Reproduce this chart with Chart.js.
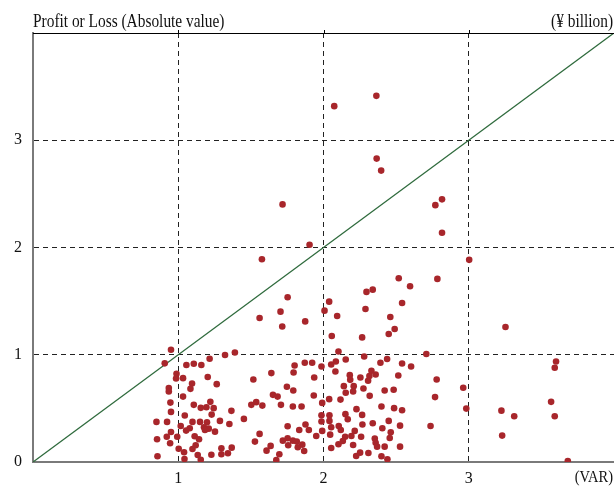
<!DOCTYPE html>
<html>
<head>
<meta charset="utf-8">
<script src="https://cdn.jsdelivr.net/npm/chart.js@4"></script>
<style>
  html, body { margin: 0; padding: 0; background: #fff; }
  #wrap { width: 614px; height: 487px; }
</style>
</head>
<body>
<div id="wrap"><canvas id="grafico" width="614" height="487"></canvas></div>
<script>
// VAR (x) vs profit or loss absolute value (y), ¥ billion
const varValues = [
  0.950, 0.907, 0.988, 0.985, 0.935, 0.935, 0.946, 0.950, 0.850, 0.923, 1.017, 0.950, 0.921, 0.993, 0.854, 0.944, 1.003, 0.857,
  1.322, 1.390, 1.216, 1.056, 1.107, 1.159, 1.033, 1.203, 1.095, 1.265, 1.084, 1.641, 1.517, 1.033, 1.801, 1.871, 1.922, 1.794,
  1.986, 1.936, 1.748, 1.792, 1.652, 1.684, 1.933, 1.107, 1.155, 1.194, 1.221, 1.244, 1.230, 1.366, 1.503, 1.537, 1.579, 1.707,
  1.789, 1.849, 1.991, 1.045, 1.098, 1.150, 1.198, 1.287, 1.352, 1.452, 1.079, 1.054, 1.177, 1.210, 1.184, 1.253, 1.986, 1.986,
  1.876, 1.753, 1.833, 1.899, 1.991, 1.950, 1.560, 1.113, 1.143, 1.528, 1.753, 1.720, 1.789, 1.816, 1.854, 1.757, 1.823, 1.636,
  1.867, 1.120, 1.098, 1.040, 1.297, 1.368, 1.342, 1.297, 1.228, 1.134, 1.155, 1.043, 1.608, 1.696, 1.675,
  2.103, 2.280, 2.708, 2.053, 2.085, 2.153, 2.082, 2.392, 2.438, 2.541, 2.603, 2.181, 2.184, 2.254, 2.330, 2.316, 2.359, 2.307,
  2.515, 2.779, 2.962, 2.140, 2.208, 2.204, 2.153, 2.275, 2.421, 2.483, 2.318, 2.768, 2.983, 2.039, 2.117, 2.399, 2.486, 2.541,
  2.227, 2.151, 2.167, 2.266, 2.041, 2.041, 2.339, 2.449, 2.268, 2.527, 2.737, 2.105, 2.053, 2.119, 2.405, 2.215, 2.463, 2.046,
  2.149, 2.192, 2.259, 2.456, 2.353, 2.133, 2.359, 2.103, 2.204, 2.369, 2.421, 2.527, 2.053, 2.252, 2.225, 2.309, 2.399, 2.440,
  3.253, 3.601, 3.592, 3.225, 3.313, 3.567, 3.592, 3.230, 3.682,
  2.364, 2.074, 2.366, 2.397, 1.718, 2.770, 2.816, 2.816, 1.904, 1.576, 3.003, 2.518, 2.784, 2.596, 2.296, 2.339, 1.753, 2.039,
  2.541, 1.704, 2.007, 2.289, 1.560, 2.094, 2.460, 1.716, 1.874, 2.490, 2.057, 2.266, 2.449
];
const plValues = [
  1.047, 0.920, 0.822, 0.779, 0.689, 0.657, 0.554, 0.467, 0.374, 0.374, 0.336, 0.280, 0.236, 0.236, 0.212, 0.175, 0.124, 0.053,
  0.997, 1.021, 0.963, 0.904, 0.916, 0.904, 0.782, 0.792, 0.732, 0.726, 0.682, 0.829, 0.769, 0.610, 0.900, 0.925, 0.925, 0.835,
  0.891, 0.788, 0.701, 0.666, 0.626, 0.610, 0.620, 0.533, 0.505, 0.511, 0.561, 0.502, 0.442, 0.477, 0.533, 0.558, 0.526, 0.533,
  0.517, 0.517, 0.551, 0.433, 0.374, 0.374, 0.371, 0.383, 0.355, 0.402, 0.315, 0.293, 0.324, 0.311, 0.299, 0.283, 0.436, 0.377,
  0.349, 0.334, 0.299, 0.299, 0.290, 0.243, 0.262, 0.240, 0.212, 0.190, 0.221, 0.199, 0.199, 0.190, 0.162, 0.156, 0.137, 0.150,
  0.103, 0.156, 0.121, 0.091, 0.128, 0.134, 0.081, 0.072, 0.068, 0.065, 0.021, 0.028, 0.106, 0.072, 0.019,
  1.031, 0.984, 1.007, 0.909, 0.937, 0.956, 0.844, 0.925, 0.960, 0.919, 0.891, 0.810, 0.766, 0.788, 0.850, 0.801, 0.816, 0.757,
  0.807, 0.769, 0.692, 0.707, 0.707, 0.657, 0.645, 0.685, 0.666, 0.673, 0.617, 0.605, 0.498, 0.586, 0.582, 0.517, 0.502, 0.483,
  0.493, 0.446, 0.399, 0.439, 0.436, 0.383, 0.362, 0.383, 0.349, 0.339, 0.336, 0.336, 0.324, 0.299, 0.315, 0.290, 0.278, 0.255,
  0.236, 0.243, 0.236, 0.224, 0.218, 0.196, 0.180, 0.165, 0.159, 0.143, 0.143, 0.143, 0.131, 0.087, 0.056, 0.084, 0.053, 0.025,
  1.259, 0.937, 0.879, 0.479, 0.427, 0.561, 0.427, 0.246, 0.009,
  3.414, 3.318, 2.829, 2.717, 2.402, 2.395, 2.449, 2.137, 2.025, 1.891, 1.885, 1.713, 1.707, 1.638, 1.586, 1.607, 1.536, 1.495,
  1.483, 1.402, 1.411, 1.427, 1.343, 1.362, 1.352, 1.264, 1.311, 1.240, 1.175, 1.162, 1.193
];
// 45-degree reference line (P/L = VAR)
const lineaX = [0, 4];
const lineaY = [0, 4];
const xTicks = [1, 2, 3];
const yTicks = [0, 1, 2, 3];

const SERIF = "'Liberation Serif', 'Times New Roman', serif";

const puntos = varValues.map((v, i) => ({ x: v, y: plValues[i] }));
const linea = lineaX.map((v, i) => ({ x: v, y: lineaY[i] }));

// texto estrecho (la fuente original es condensada)
function textoEstrecho(ctx, txt, x, y, align, escala) {
  ctx.save();
  ctx.translate(x, y);
  ctx.scale(escala, 1);
  ctx.textAlign = align;
  ctx.fillText(txt, 0, 0);
  ctx.restore();
}

// Títulos, borde superior y etiqueta (VAR)
const textosPlugin = {
  id: 'textos',
  afterDraw(chart) {
    const { ctx, chartArea, scales } = chart;
    ctx.save();
    ctx.strokeStyle = '#000';
    ctx.lineWidth = 1;
    ctx.beginPath();
    ctx.moveTo(chartArea.left, chartArea.top + 0.5);
    ctx.lineTo(chartArea.right, chartArea.top + 0.5);
    xTicks.forEach(t => {
      const px = Math.round(scales.x.getPixelForValue(t)) + 0.5;
      ctx.moveTo(px, chartArea.top);
      ctx.lineTo(px, chartArea.top - 3);
    });
    ctx.stroke();

    ctx.fillStyle = '#111';
    ctx.font = '19px ' + SERIF;
    ctx.textBaseline = 'alphabetic';
    textoEstrecho(ctx, 'Profit or Loss (Absolute value)', 33, 27, 'left', 0.81);
    textoEstrecho(ctx, '(¥ billion)', 613, 27, 'right', 0.81);
    ctx.font = '17px ' + SERIF;
    ctx.textBaseline = 'middle';
    textoEstrecho(ctx, '(VAR)', 613, 478, 'right', 0.85);
    ctx.restore();
  }
};

const ctx = document.getElementById('grafico').getContext('2d');
new Chart(ctx, {
  type: 'scatter',
  data: {
    datasets: [
      {
        label: 'P/L',
        data: puntos,
        backgroundColor: '#a8262b',
        borderWidth: 0,
        pointRadius: 3.3,
        pointHoverRadius: 3.3
      },
      {
        label: '45°',
        data: linea,
        showLine: true,
        borderColor: '#2f6b3d',
        borderWidth: 1.3,
        pointRadius: 0,
        fill: false
      }
    ]
  },
  plugins: [textosPlugin],
  options: {
    responsive: false,
    animation: false,
    devicePixelRatio: 1,
    layout: { autoPadding: false, padding: { top: 33, right: 0, left: 0, bottom: 0 } },
    plugins: {
      legend: { display: false },
      tooltip: { enabled: false }
    },
    scales: {
      x: {
        type: 'linear',
        min: 0,
        max: 4,
        afterFit: s => { s.height = 25; s.paddingRight = 0; s.paddingLeft = 0; },
        afterBuildTicks: s => { s.ticks = [0, ...xTicks, 4].map(v => ({ value: v })); },
        ticks: {
          padding: 7,
          color: '#111',
          font: { family: SERIF, size: 16 },
          maxRotation: 0,
          callback: v => (xTicks.includes(v) ? String(v) : '')
        },
        grid: {
          drawTicks: false,
          color: c => (xTicks.includes(c.tick.value) ? '#222' : 'rgba(0,0,0,0)'),
          lineWidth: 1
        },
        border: { display: true, color: '#7a7a7a', width: 2, dash: [5, 4] }
      },
      y: {
        type: 'linear',
        min: 0,
        max: 4,
        afterFit: s => { s.width = 33; s.paddingTop = 0; s.paddingBottom = 0; },
        afterBuildTicks: s => { s.ticks = [...yTicks, 4].map(v => ({ value: v })); },
        ticks: {
          padding: 11,
          color: '#111',
          font: { family: SERIF, size: 16 },
          callback: v => (yTicks.includes(v) ? String(v) : '')
        },
        grid: {
          drawTicks: false,
          color: c => (c.tick.value > 0 && c.tick.value < 4 ? '#222' : 'rgba(0,0,0,0)'),
          lineWidth: 1
        },
        border: { display: true, color: '#7a7a7a', width: 2, dash: [5, 4] }
      }
    }
  }
});
</script>
</body>
</html>
